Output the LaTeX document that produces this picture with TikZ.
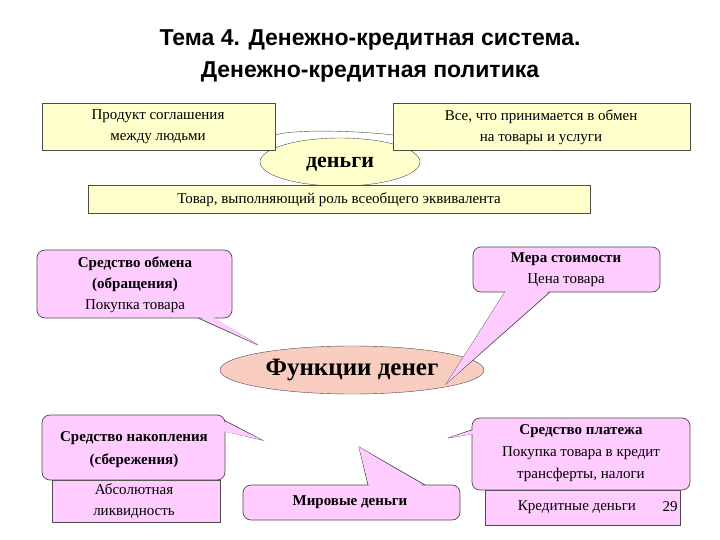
\documentclass[tikz,border=0pt]{standalone}
\usetikzlibrary{shapes.geometric}
\usepackage{fontspec}
\setmainfont{Liberation Serif}
\newfontfamily\titlefont{Liberation Sans}
\definecolor{ylw}{HTML}{FFFFCC}
\definecolor{pnk}{HTML}{FFCCFF}
\definecolor{salm}{HTML}{F9CCC0}
\begin{document}
\begin{tikzpicture}[x=1pt,y=-1pt,
  ybox/.style={draw=black!70,fill=ylw,line width=0.7pt},
  pbox/.style={draw=black!70,fill=pnk,line width=0.7pt,rounded corners=8pt},
  ptri/.style={draw=black!70,fill=pnk,line width=0.7pt},
  sbox/.style={draw=black!70,fill=pnk,line width=0.7pt},
  txt/.style={font=\fontsize{15}{17}\selectfont,align=center,inner sep=0pt},
  btxt/.style={font=\fontsize{15}{17}\selectfont\bfseries,align=center,inner sep=0pt}]
\useasboundingbox (0,0) rectangle (720,540);
\fill[white] (0,0) rectangle (720,540);
\node[font=\titlefont\bfseries\fontsize{23}{25}\selectfont,align=center] (title) at (370,40) {Тема 4. Денежно-кредитная система.};
\node[font=\titlefont\bfseries\fontsize{23}{25}\selectfont,align=center] (title2) at (370,72) {Денежно-кредитная политика};
% top
\coordinate (c1) at (275,135);
\coordinate (c2) at (393,135);
\draw[black!70] (c1) .. controls (300,128) and (370,132) .. (c2);
\node[ellipse,draw=black!70,fill=ylw,minimum width=160pt,minimum height=48pt,inner sep=0pt] (money) at (340,162) {};
\draw[ybox] (42,103) rectangle (275,150);
\node[txt] (t1) at (158,127) {Продукт соглашения\\[4pt] между людьми};
\draw[ybox] (393,103) rectangle (690,150);
\node[txt] (t2) at (541,127) {Все, что принимается в обмен\\[4pt] на товары и услуги};
\node[font=\fontsize{22}{24}\selectfont\bfseries,inner sep=0pt] (mt) at (340,164) {деньги};
\draw[ybox] (88,185) rectangle (590,213);
\node[txt] (t3) at (339,200) {Товар, выполняющий роль всеобщего эквивалента};
% center
\node[ellipse,draw=black!70,fill=salm,minimum width=264pt,minimum height=48pt,inner sep=0pt,font=\fontsize{25}{27}\selectfont\bfseries] (fn) at (352,370) {Функции денег};
% callout 1
\draw[ptri] (198,318) -- (258,345) -- (213,318);
\draw[pbox] (37,250) rectangle (232,318);
\fill[pnk] (199,316.5) -- (258,345) -- (212,316.5) -- cycle;
\node[txt] (k1) at (135,285) {\textbf{Средство обмена}\\[4pt] \textbf{(обращения)}\\[4pt] Покупка товара};
% callout 2
\draw[ptri] (505,292) -- (447,383) -- (550,292);
\draw[pbox] (473,247) rectangle (660,292);
\fill[pnk] (506,290.5) -- (447,383) -- (549,290.5) -- cycle;
\node[txt] (k2) at (566,270) {\textbf{Мера стоимости}\\[4pt] Цена товара};
% callout 3
\draw[sbox] (52,480) rectangle (220,522);
\node[txt] (k3b) at (134,501) {Абсолютная\\[4pt] ликвидность};
\draw[ptri] (157,415) -- (262,440) -- (214,415);
\draw[pbox] (42,415) rectangle (225,480);
\fill[pnk] (158,416.5) -- (262,440) -- (213,416.5) -- cycle;
\node[btxt] (k3) at (134,450) {Средство накопления\\[6pt] (сбережения)};
% callout 4
\draw[ptri] (368,485) -- (359,447) -- (425,485);
\draw[pbox] (243,485) rectangle (460,520);
\fill[pnk] (369,486.5) -- (359,447) -- (424,486.5) -- cycle;
\node[btxt] (k4) at (350,502) {Мировые деньги};
% callout 5
\draw[sbox] (485,490) rectangle (680,525);
\node[txt] (k5b) at (577,507) {Кредитные деньги};
\node[txt] (pg) at (670,507) {29};
\draw[ptri] (507,418) -- (448,438) -- (563,418);
\draw[pbox] (472,418) rectangle (690,490);
\fill[pnk] (508,419.5) -- (448,438) -- (562,419.5) -- cycle;
\node[txt] (k5) at (581,453) {\textbf{Средство платежа}\\[5pt] Покупка товара в кредит\\[5pt] трансферты, налоги};
\end{tikzpicture}
\end{document}
